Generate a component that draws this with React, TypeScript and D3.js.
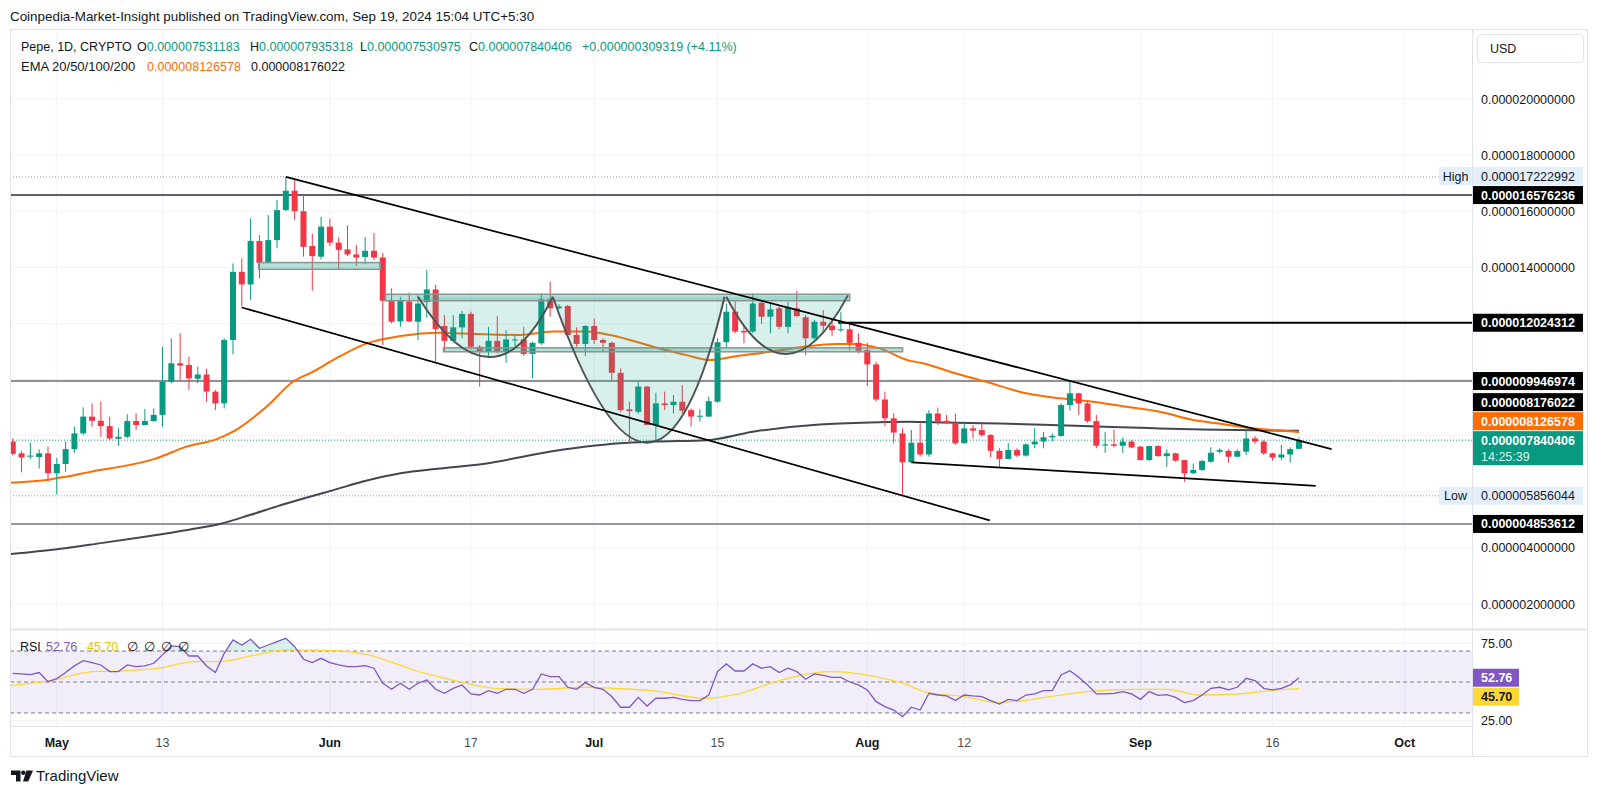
import React from 'react';
import * as d3 from 'd3';

// PEPE / USD, 1D candles. Prices are stored in millionths of a USD (1e-6).
const FIRST_DAY = Date.UTC(2024, 3, 26);
const DAY_MS = 86400000;

const opens = [
  7.79, 7.37, 7.25, 7.24, 7.37,
  6.66, 6.99, 7.52, 8.08, 8.68, 8.53, 8.34, 7.89, 7.96, 8.52,
  8.38, 8.52, 8.74, 9.92, 10.58, 10.52, 10.03, 10.18, 9.57, 9.15,
  11.41, 13.84, 13.39, 14.94, 14.16, 14.97, 16.04, 16.73, 16.0, 14.76,
  14.38, 15.45, 14.88, 14.64, 14.46, 14.37, 14.59, 14.35, 12.81, 12.07,
  12.78, 12.06, 12.76, 13.21, 11.91, 11.38, 11.86, 12.34, 11.17, 10.99,
  11.38, 10.99, 11.41, 11.43, 10.91, 11.29, 12.86, 12.54, 12.62, 11.59,
  11.27, 11.91, 11.41, 11.31, 10.24, 8.94, 8.85, 9.75, 8.38, 9.15,
  9.09, 9.21, 8.91, 8.69, 8.68, 9.21, 11.33, 12.42, 11.73, 11.71,
  12.74, 12.24, 12.54, 11.88, 12.54, 12.22, 11.47, 12.06, 11.92, 11.76,
  11.79, 11.31, 11.05, 10.54, 9.29, 8.62, 8.08, 7.05, 7.75, 7.33,
  8.79, 8.53, 8.46, 7.73, 8.26, 8.2, 8.02, 7.46, 7.17, 7.49,
  7.29, 7.69, 7.79, 7.94, 7.99, 9.09, 9.51, 9.15, 8.52, 7.65,
  7.69, 7.64, 7.79, 7.61, 7.13, 7.63, 7.27, 7.37, 7.13, 6.66,
  6.78, 7.07, 7.43, 7.46, 7.25, 7.43, 7.9, 7.79, 7.37, 7.22,
  7.33, 7.531183,
];
const highs = [
  7.9, 7.45, 7.75, 7.51, 7.61,
  7.21, 7.79, 8.32, 9.01, 9.15, 9.21, 8.68, 8.26, 8.76, 8.8,
  8.94, 8.97, 11.17, 11.47, 11.65, 10.82, 10.46, 10.39, 9.63, 11.47,
  14.14, 14.32, 15.74, 15.15, 15.86, 16.4, 17.222992, 17.13, 16.54, 15.2,
  15.8, 15.74, 15.07, 15.5, 14.8, 15.07, 15.23, 14.52, 13.25, 12.95,
  13.1, 13.0, 13.9, 13.37, 12.3, 12.3, 12.44, 12.42, 11.23, 11.88,
  12.26, 11.76, 11.59, 11.88, 11.35, 13.07, 13.49, 12.69, 12.66, 11.86,
  11.94, 12.18, 11.47, 11.35, 10.4, 9.21, 9.92, 9.77, 9.53, 9.57,
  9.45, 9.8, 8.97, 8.94, 9.39, 11.47, 12.71, 12.83, 11.88, 13.07,
  12.83, 12.71, 12.66, 12.77, 13.17, 12.3, 12.12, 12.48, 12.06, 12.4,
  12.0, 11.65, 11.31, 10.64, 9.57, 8.8, 8.26, 8.2, 8.44, 8.91,
  9.0, 8.74, 8.79, 8.5, 8.38, 8.46, 8.06, 7.55, 7.73, 7.55,
  7.73, 8.26, 8.14, 8.08, 9.15, 9.92, 9.53, 9.21, 8.74, 8.14,
  8.22, 7.94, 7.84, 7.63, 7.63, 7.67, 7.51, 7.39, 7.13, 7.01,
  7.13, 7.58, 7.55, 7.51, 7.51, 8.26, 7.99, 7.84, 7.39, 7.67,
  7.58, 7.935318,
];
const lows = [
  7.3, 6.69, 7.17, 6.83, 6.36,
  5.9, 6.72, 7.39, 8.02, 8.32, 7.96, 7.84, 7.64, 7.92, 8.2,
  8.38, 8.5, 8.32, 9.87, 9.98, 9.63, 9.87, 9.21, 8.91, 8.97,
  10.9, 12.6, 12.83, 13.6, 14.16, 14.68, 16.0, 15.69, 14.38, 13.17,
  14.28, 14.76, 13.93, 14.4, 14.05, 14.11, 14.26, 11.23, 12.0, 11.88,
  12.05, 11.41, 12.2, 10.64, 11.0, 11.38, 11.47, 11.1, 9.75, 10.82,
  10.93, 10.6, 11.17, 10.84, 10.04, 11.23, 12.24, 12.5, 11.47, 11.17,
  10.84, 11.27, 10.99, 9.98, 8.85, 7.7, 8.79, 8.38, 7.79, 8.91,
  8.79, 8.79, 8.32, 8.5, 8.68, 9.17, 11.15, 11.65, 11.29, 11.65,
  11.98, 11.65, 11.79, 11.65, 12.24, 10.87, 11.43, 11.65, 11.55, 11.7,
  11.05, 10.93, 9.77, 9.21, 8.34, 7.73, 5.856044, 7.04, 7.25, 7.25,
  8.38, 8.41, 7.67, 7.73, 7.9, 7.96, 7.23, 6.87, 7.17, 7.23,
  7.25, 7.55, 7.55, 7.79, 7.96, 8.89, 8.74, 8.46, 7.55, 7.39,
  7.58, 7.39, 7.55, 7.13, 7.1, 7.25, 6.89, 7.07, 6.36, 6.63,
  6.74, 7.04, 7.37, 7.04, 7.23, 7.31, 7.7, 7.31, 7.11, 7.13,
  7.04, 7.530975,
];
const closes = [
  7.35, 7.22, 7.29, 7.37, 6.66,
  6.99, 7.52, 8.08, 8.68, 8.53, 8.34, 7.9, 7.96, 8.52, 8.38,
  8.52, 8.74, 9.92, 10.58, 10.5, 10.04, 10.18, 9.57, 9.15, 11.41,
  13.84, 13.39, 14.94, 14.16, 14.97, 16.04, 16.73, 16.0, 14.73, 14.4,
  15.45, 14.88, 14.62, 14.46, 14.35, 14.59, 14.35, 12.81, 12.06, 12.81,
  12.07, 12.71, 13.21, 11.8, 11.38, 11.86, 12.34, 11.17, 10.99, 11.38,
  10.99, 11.43, 11.43, 10.91, 11.31, 12.86, 12.54, 12.6, 11.59, 11.27,
  11.91, 11.41, 11.31, 10.24, 8.91, 8.88, 9.75, 8.38, 9.15, 9.09,
  9.21, 8.89, 8.68, 8.71, 9.23, 11.33, 12.42, 11.71, 11.68, 12.71,
  12.24, 12.5, 11.88, 12.57, 12.26, 11.47, 12.06, 11.92, 11.76, 11.79,
  11.31, 11.03, 10.54, 9.29, 8.62, 8.11, 7.05, 7.75, 7.33, 8.79,
  8.5, 8.44, 7.73, 8.26, 8.18, 8.02, 7.46, 7.17, 7.49, 7.29,
  7.69, 7.79, 7.94, 7.99, 9.09, 9.51, 9.15, 8.52, 7.64, 7.69,
  7.64, 7.79, 7.58, 7.13, 7.63, 7.27, 7.37, 7.11, 6.66, 6.78,
  7.1, 7.39, 7.49, 7.25, 7.45, 7.9, 7.79, 7.37, 7.22, 7.33,
  7.52, 7.840406,
];

// RSI(14), one value per candle
const rsiValues = [
  55.6, 55.2, 54.8, 56.1, 50.2,
  52.2, 56.1, 60.4, 63.8, 62.5, 61.0, 56.7, 56.7, 61.0, 59.9,
  60.4, 62.1, 67.5, 73.3, 72.8, 66.8, 66.8, 60.4, 56.1, 68.5,
  77.2, 73.9, 77.6, 71.8, 73.9, 76.1, 78.2, 72.8, 64.7, 62.5,
  65.3, 62.5, 61.0, 59.9, 59.9, 60.6, 58.9, 49.2, 45.3, 49.2,
  45.3, 49.2, 51.3, 45.3, 42.7, 45.9, 48.1, 42.3, 41.6, 44.4,
  42.7, 45.3, 45.3, 42.7, 45.3, 55.2, 53.5, 53.5, 46.6, 45.3,
  49.6, 46.6, 45.3, 40.6, 33.7, 33.7, 40.1, 34.5, 39.5, 39.5,
  40.1, 38.8, 38.0, 38.0, 41.6, 56.7, 61.7, 57.1, 57.1, 61.7,
  58.9, 59.9, 56.1, 58.9, 56.7, 51.8, 55.2, 54.3, 53.0, 53.0,
  50.0, 48.1, 44.9, 37.3, 34.1, 31.9, 27.6, 33.7, 31.9, 42.7,
  41.6, 41.0, 38.0, 41.6, 41.0, 40.6, 38.0, 35.8, 38.8, 38.0,
  41.6, 42.3, 44.4, 44.4, 54.5, 57.3, 53.0, 48.1, 42.3, 42.3,
  42.7, 43.8, 42.3, 38.8, 43.8, 41.4, 41.8, 40.1, 36.7, 38.0,
  41.6, 45.9, 46.6, 44.9, 46.6, 52.4, 50.9, 45.9, 44.9, 45.9,
  48.1, 52.76,
];

// indicator curves: [days after May 1, value]
const ema50 = [
  [-5.2, 6.32], [-0.8, 6.44], [1.1, 6.54], [4.9, 6.78], [6.8, 6.87], [11.3, 7.19],
  [14.7, 7.61], [18.1, 7.87], [20.0, 8.14], [23.8, 9.03], [26.8, 9.92], [29.1, 10.28],
  [31.4, 10.7], [35.2, 11.29], [39, 11.55], [43.5, 11.67], [45, 11.65], [52.6, 11.59],
  [56.3, 11.71], [60.1, 11.71], [62.8, 11.59], [67.7, 11.17], [71.5, 10.87], [74.1, 10.7],
  [77.2, 10.84], [81, 10.99], [84.8, 11.17], [88.5, 11.27], [90.4, 11.27], [93.4, 11.11],
  [96.5, 10.7], [98.3, 10.58], [101.4, 10.28], [105.5, 9.92], [110, 9.51], [113.9, 9.33],
  [117.6, 9.21], [121.4, 9.03], [125.2, 8.85], [129, 8.56], [131.7, 8.44], [134.3, 8.32],
  [138.1, 8.2], [141, 8.126578],
];
const ema200 = [
  [-5.2, 3.78], [0, 3.95], [5, 4.17], [10, 4.4], [15, 4.65], [18.5, 4.85], [22, 5.18],
  [25, 5.48], [28, 5.76], [31.4, 6.06], [35.2, 6.4], [39, 6.66], [43.5, 6.83], [48.8, 7.01],
  [54.5, 7.35], [60.1, 7.61], [63.9, 7.73], [67.7, 7.79], [73.8, 7.84], [79, 8.14],
  [86.6, 8.4], [93.4, 8.48], [96.5, 8.5], [101, 8.47], [107, 8.43], [112, 8.39],
  [118, 8.33], [124, 8.27], [130, 8.22], [136, 8.19], [141, 8.176022],
];
const rsiMa = [
  [-5.2, 47.8], [0, 51.7], [4, 56.7], [8, 57.3], [11.6, 58.9], [15.6, 63.2], [18.5, 63.2],
  [22.6, 67.5], [26, 70.7], [31.8, 70.3], [35.3, 67.5], [41.1, 56.7], [45.7, 50.2],
  [49.8, 45.9], [54.4, 45.3], [60.2, 46.6], [63.1, 45.9], [67.7, 44.4], [73.5, 39.5],
  [77.6, 42.7], [81.6, 50.2], [84.4, 54.3], [87.9, 56.7], [92, 54.5], [96, 49.2],
  [98.9, 43.1], [103, 40.6], [107, 36.7], [112.2, 40.1], [116.9, 43.8], [122.1, 45.3],
  [126.1, 45.3], [129.6, 41.6], [133.7, 42.1], [137.7, 44.4], [141, 45.7],
];

// drawings: [days after May 1, price]
const channelUpper = [[26, 17.222992], [144.7, 7.52]];
const channelLower = [[21, 12.57], [105.9, 4.98]];
const wedgeLower = [[97, 7.05], [142.9, 6.21]];
const cups = [
  [[41.0, 12.95], [49.1, 10.8], [56.3, 12.95]],
  [[56.3, 12.95], [67.0, 7.75], [75.8, 12.95]],
  [[76.0, 12.95], [82.8, 10.91], [89.8, 13.0]],
];
const boxes = [
  { from: [22.9, 14.17], to: [36.7, 13.93] },
  { from: [37.3, 13.04], to: [90.0, 12.81] },
  { from: [43.9, 11.13], to: [96.0, 10.99] },
];
const levelLines = [
  { value: 16.576236, from: null, color: '#2a2e39', width: 1.5 },
  { value: 12.024312, from: 88.7, color: '#000000', width: 2 },
  { value: 9.946974, from: null, color: '#6a6d78', width: 1.5 },
  { value: 4.853612, from: null, color: '#9598a1', width: 2 },
];

const priceTicks = [20, 18, 16, 14, 12, 10, 8, 6, 4, 2];
const rsiTicks = [75, 25];
const timeTicks = [
  ['2024-05-01', 'May', true], ['2024-05-13', '13', false], ['2024-06-01', 'Jun', true],
  ['2024-06-17', '17', false], ['2024-07-01', 'Jul', true], ['2024-07-15', '15', false],
  ['2024-08-01', 'Aug', true], ['2024-08-12', '12', false], ['2024-09-01', 'Sep', true],
  ['2024-09-16', '16', false], ['2024-10-01', 'Oct', true],
];

const priceLabels = [
  { value: 17.222992, kind: 'high', tag: 'High' },
  { value: 16.576236, kind: 'line' },
  { value: 12.024312, kind: 'line' },
  { value: 9.946974, kind: 'line' },
  { value: 8.176022, kind: 'line' },
  { value: 8.126578, kind: 'ema' },
  { value: 7.840406, kind: 'last', sub: '14:25:39' },
  { value: 5.856044, kind: 'low', tag: 'Low' },
  { value: 4.853612, kind: 'line' },
];

const GREEN = '#089981';
const RED = '#f23645';
const ORANGE = '#ff6d00';
const PURPLE = '#7e57c2';
const YELLOW = '#fdd835';
const TEXT = '#131722';
const GRID = '#f0f3fa';
const BORDER = '#e0e3eb';
const FONT = '"Liberation Sans", Arial, sans-serif';

const fmt = (v: number) => (v * 1e-6).toFixed(12);

export default function App() {
  const W = 1600, H = 796;
  const left = 10, top = 29, right = 1472, outerRight = 1588, bottom = 757;
  const mainBottom = 629, rsiTop = 630, rsiBottom = 726;

  const MAY1 = Date.UTC(2024, 4, 1);
  const x = d3.scaleUtc()
    .domain([new Date(MAY1), new Date(Date.UTC(2024, 9, 1))])
    .range([56.8, 1404.7]);
  const dayX = (d: number) => x(new Date(MAY1 + d * DAY_MS));
  const y = d3.scaleLinear().domain([2, 20]).range([604, 99]);
  const ry = d3.scaleLinear().domain([25, 75]).range([720.7, 643.3]);

  const candles = opens.map((o, i) => ({
    date: new Date(FIRST_DAY + i * DAY_MS),
    o, h: highs[i], l: lows[i], c: closes[i], rsi: rsiValues[i],
  }));

  const curve = d3.line<number[]>().x(d => dayX(d[0])).y(d => y(d[1])).curve(d3.curveMonotoneX);
  const rsiCurve = d3.line<number[]>().x(d => dayX(d[0])).y(d => ry(d[1])).curve(d3.curveMonotoneX);
  const rsiLine = d3.line<any>().x(d => x(d.date)).y(d => ry(d.rsi));
  const rsiArea = (lvl: number) => d3.area<any>().x(d => x(d.date)).y0(ry(lvl)).y1(d => ry(d.rsi));
  const seg = d3.line<number[]>().x(d => dayX(d[0])).y(d => y(d[1]));

  // label stacking, anchored on the last-price label
  const lastIdx = priceLabels.findIndex(l => l.kind === 'last');
  const placed = priceLabels.map(l => {
    const h = l.kind === 'last' ? 34 : 18;
    return { ...l, h, top: y(l.value) - 9 };
  });
  for (let i = lastIdx - 1; i >= 0; i--) {
    const below = placed[i + 1];
    placed[i].top = Math.min(placed[i].top, below.top - 1 - placed[i].h);
  }
  for (let i = lastIdx + 1; i < placed.length; i++) {
    const above = placed[i - 1];
    placed[i].top = Math.max(placed[i].top, above.top + above.h + 1);
  }
  const labelFill = (k: string) =>
    k === 'ema' ? ORANGE : k === 'last' ? GREEN : k === 'high' || k === 'low' ? '#e3effd' : '#000';
  const labelText = (k: string) => (k === 'high' || k === 'low' ? TEXT : '#fff');

  const visibleTicks = priceTicks.filter(t =>
    placed.every(p => Math.abs(y(t) - (p.top + 9)) > 13));

  const rsiLabels = [
    { value: 52.76, fill: PURPLE, color: '#fff' },
    { value: 45.7, fill: YELLOW, color: TEXT },
  ].map(l => ({ ...l, top: ry(l.value) - 9 }));
  rsiLabels[1].top = Math.max(rsiLabels[1].top, rsiLabels[0].top + 19);

  const cupPath = cups.map(([s, b, e]) => {
    const sx = dayX(s[0]), sy = y(s[1]), bx = dayX(b[0]), by = y(b[1]), ex = dayX(e[0]), ey = y(e[1]);
    const cx = 2 * bx - (sx + ex) / 2, cy = 2 * by - (sy + ey) / 2;
    return `M${sx},${sy}Q${cx},${cy} ${ex},${ey}`;
  });

  const bodyW = 6;

  return (
    <svg width={W} height={H} style={{ position: 'absolute', left: 0, top: 0, background: '#fff' }}
      fontFamily={FONT}>
      <defs>
        <clipPath id="mainClip"><rect x={left} y={top} width={right - left} height={mainBottom - top} /></clipPath>
        <clipPath id="rsiClip"><rect x={left} y={rsiTop} width={right - left} height={rsiBottom - rsiTop} /></clipPath>
        <clipPath id="obClip"><rect x={left} y={rsiTop} width={right - left} height={ry(70) - rsiTop} /></clipPath>
        <clipPath id="osClip"><rect x={left} y={ry(30)} width={right - left} height={rsiBottom - ry(30)} /></clipPath>
      </defs>

      <text x={10} y={21} fontSize={13.4} fill={TEXT}>
        Coinpedia-Market-Insight published on TradingView.com, Sep 19, 2024 15:04 UTC+5:30
      </text>

      {/* grid */}
      {timeTicks.map(([d]) => (
        <line key={'vg' + d} x1={x(new Date(d as string))} x2={x(new Date(d as string))}
          y1={top} y2={rsiBottom} stroke={GRID} />
      ))}
      {priceTicks.map(t => (
        <line key={'hg' + t} x1={left} x2={right} y1={y(t)} y2={y(t)} stroke={GRID} />
      ))}
      {rsiTicks.map(t => (
        <line key={'rg' + t} x1={left} x2={right} y1={ry(t)} y2={ry(t)} stroke={GRID} />
      ))}

      {/* main pane */}
      <g clipPath="url(#mainClip)">
        <line x1={left} x2={right} y1={y(17.222992)} y2={y(17.222992)} stroke="#9598a1" strokeDasharray="1 2" />
        <line x1={left} x2={right} y1={y(5.856044)} y2={y(5.856044)} stroke="#9598a1" strokeDasharray="1 2" />
        <line x1={left} x2={right} y1={y(7.840406)} y2={y(7.840406)} stroke={GREEN} strokeDasharray="1 2" />
        {levelLines.map(l => (
          <line key={'lv' + l.value} x1={l.from == null ? left : dayX(l.from)} x2={right}
            y1={y(l.value)} y2={y(l.value)} stroke={l.color} strokeWidth={l.width} />
        ))}

        <path d={curve(ema200) || ''} fill="none" stroke="#434651" strokeWidth={2} />
        <path d={curve(ema50) || ''} fill="none" stroke={ORANGE} strokeWidth={2} />

        {candles.map((c, i) => {
          const cx = x(c.date);
          const col = c.c >= c.o ? GREEN : RED;
          const yt = y(Math.max(c.o, c.c)), yb = y(Math.min(c.o, c.c));
          return (
            <g key={'c' + i}>
              <line x1={cx} x2={cx} y1={y(c.h)} y2={y(c.l)} stroke={col} strokeWidth={1} />
              <rect x={cx - bodyW / 2} y={yt} width={bodyW} height={Math.max(1, yb - yt)} fill={col} />
            </g>
          );
        })}

        {cupPath.map((d, i) => (
          <path key={'cupf' + i} d={d + 'Z'} fill="rgba(34,171,148,0.18)" stroke="none" />
        ))}
        {boxes.map((b, i) => (
          <rect key={'bx' + i} x={dayX(b.from[0])} y={y(b.from[1])}
            width={dayX(b.to[0]) - dayX(b.from[0])} height={y(b.to[1]) - y(b.from[1])}
            fill="rgba(34,171,148,0.35)" stroke="#8a9491" strokeWidth={1.5} />
        ))}
        {cupPath.map((d, i) => (
          <path key={'cups' + i} d={d} fill="none" stroke="#4f5552" strokeWidth={2} />
        ))}
        {[channelUpper, channelLower, wedgeLower].map((l, i) => (
          <path key={'tl' + i} d={seg(l) || ''} fill="none" stroke="#000" strokeWidth={1.7} />
        ))}
      </g>

      {/* RSI pane */}
      <rect x={left} y={ry(70)} width={right - left} height={ry(30) - ry(70)} fill="rgba(126,87,194,0.1)" />
      {[70, 50, 30].map(v => (
        <line key={'rl' + v} x1={left} x2={right} y1={ry(v)} y2={ry(v)} stroke="#787b86" strokeDasharray="4 3" />
      ))}
      <g clipPath="url(#rsiClip)">
        <path d={rsiArea(70)(candles) || ''} fill="rgba(8,153,129,0.15)" clipPath="url(#obClip)" />
        <path d={rsiArea(30)(candles) || ''} fill="rgba(242,54,69,0.15)" clipPath="url(#osClip)" />
        <path d={rsiCurve(rsiMa) || ''} fill="none" stroke={YELLOW} strokeWidth={1.3} />
        <path d={rsiLine(candles) || ''} fill="none" stroke={PURPLE} strokeWidth={1.3} />
      </g>

      {/* frame */}
      <rect x={left + 0.5} y={top + 0.5} width={outerRight - left - 1} height={bottom - top - 1}
        fill="none" stroke={BORDER} />
      <line x1={left} x2={outerRight} y1={mainBottom + 0.5} y2={mainBottom + 0.5} stroke={BORDER} strokeWidth={2} />
      <line x1={right + 0.5} x2={right + 0.5} y1={top} y2={bottom} stroke={BORDER} />
      <line x1={left} x2={right} y1={rsiBottom + 0.5} y2={rsiBottom + 0.5} stroke={BORDER} />

      {/* legends */}
      <text y={51} fontSize={12.5} fill={TEXT}>
        <tspan x={21}>Pepe, 1D, CRYPTO</tspan>
        <tspan x={137}>O</tspan><tspan fill={GREEN}>{fmt(opens[opens.length - 1])}</tspan>
        <tspan x={250}>H</tspan><tspan fill={GREEN}>{fmt(highs[highs.length - 1])}</tspan>
        <tspan x={360}>L</tspan><tspan fill={GREEN}>{fmt(lows[lows.length - 1])}</tspan>
        <tspan x={469}>C</tspan><tspan fill={GREEN}>{fmt(closes[closes.length - 1])}</tspan>
        <tspan x={582} fill={GREEN}>+0.000000309319 (+4.11%)</tspan>
      </text>
      <text y={71} fontSize={13} fill={TEXT}>
        <tspan x={21}>EMA 20/50/100/200</tspan>
        <tspan x={147} fill={ORANGE} fontSize={12.5}>{fmt(8.126578)}</tspan>
        <tspan x={251} fontSize={12.5}>{fmt(8.176022)}</tspan>
      </text>
      <text y={651} fontSize={12.5} fill={TEXT}>
        <tspan x={20}>RSI</tspan>
        <tspan x={46} fill={PURPLE}>52.76</tspan>
        <tspan x={87} fill="#e6c200">45.70</tspan>
        <tspan x={127}>∅</tspan><tspan x={144}>∅</tspan><tspan x={161}>∅</tspan><tspan x={178}>∅</tspan>
      </text>

      {/* USD button */}
      <rect x={1477.5} y={34.5} width={106} height={28} rx={4} fill="#fff" stroke={BORDER} />
      <text x={1490} y={53} fontSize={12.5} fill={TEXT}>USD</text>

      {/* price axis */}
      {visibleTicks.map(t => (
        <text key={'pt' + t} x={1481} y={y(t) + 4.5} fontSize={12.5} fill={TEXT}>{fmt(t)}</text>
      ))}
      {placed.map((p, i) => (
        <g key={'pl' + i}>
          <rect x={1473} y={p.top} width={110} height={p.h} fill={labelFill(p.kind)} />
          <text x={1481} y={p.top + 13.5} fontSize={12.5} fill={labelText(p.kind)}
            fontWeight={p.kind === 'high' || p.kind === 'low' ? 400 : 600}>{fmt(p.value)}</text>
          {p.sub && <text x={1481} y={p.top + 30} fontSize={12.5} fill="#d8f1ec">{p.sub}</text>}
          {p.tag && (
            <g>
              <rect x={1439} y={p.top} width={33} height={p.h} fill="#e3effd" />
              <text x={1455.5} y={p.top + 13.5} fontSize={12.5} fill={TEXT} textAnchor="middle">{p.tag}</text>
            </g>
          )}
        </g>
      ))}

      {/* RSI axis */}
      {rsiTicks.map(t => (
        <text key={'rt' + t} x={1481} y={ry(t) + 4.5} fontSize={12.5} fill={TEXT}>{t.toFixed(2)}</text>
      ))}
      {rsiLabels.map((l, i) => (
        <g key={'rlab' + i}>
          <rect x={1473} y={l.top} width={46} height={18} fill={l.fill} />
          <text x={1481} y={l.top + 13.5} fontSize={12.5} fill={l.color} fontWeight={600}>{l.value.toFixed(2)}</text>
        </g>
      ))}

      {/* time axis */}
      {timeTicks.map(([d, lab, major]) => (
        <text key={'tt' + d} x={x(new Date(d as string))} y={747} fontSize={12.5} textAnchor="middle"
          fill={major ? TEXT : '#4a4e59'} fontWeight={major ? 700 : 400}>{lab as string}</text>
      ))}

      {/* TradingView mark */}
      <g fill={TEXT}>
        <path d="M11,770.5h9.5v11h-4.5v-6.5h-5z" />
        <circle cx={23.3} cy={772.8} r={2.2} />
        <path d="M26.5,770.5h6.5l-4.8,11h-5.2z" />
      </g>
      <text x={36} y={781} fontSize={15} fill={TEXT}>TradingView</text>
    </svg>
  );
}
